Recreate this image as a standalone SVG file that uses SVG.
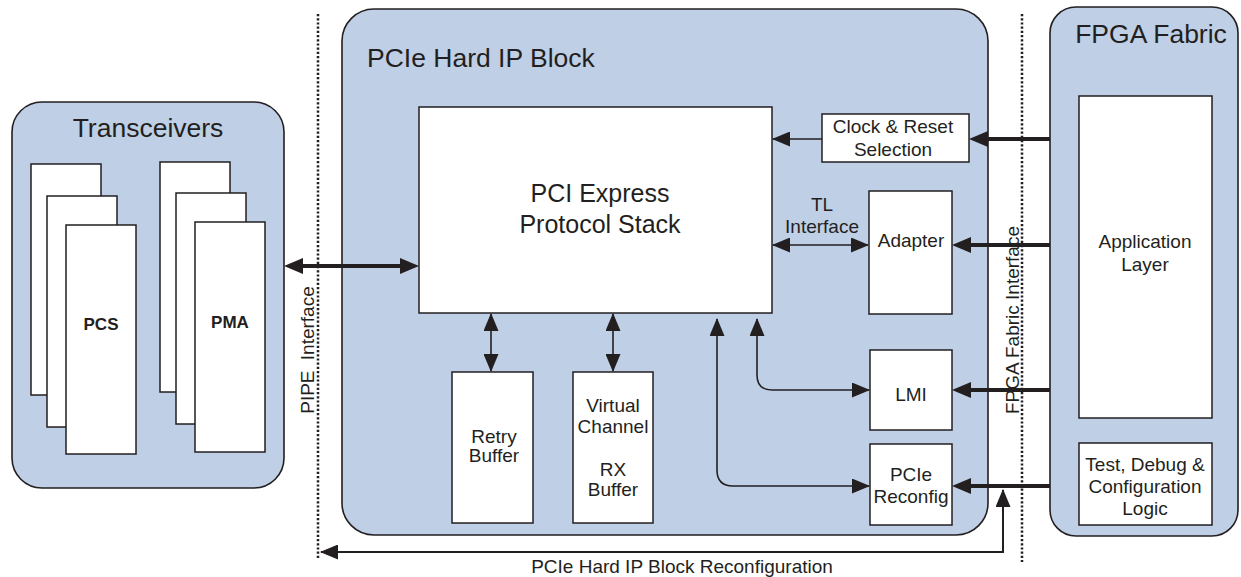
<svg xmlns="http://www.w3.org/2000/svg" width="1241" height="577" viewBox="0 0 1241 577">
<style>
.region{fill:#bfcfe6;stroke:#231f20;stroke-width:1.6}
.box{fill:#ffffff;stroke:#231f20;stroke-width:1.5}
text{font-family:"Liberation Sans",Arial,sans-serif;fill:#231f20}
.title{font-size:26.5px}
.big{font-size:25px;text-anchor:middle}
.lbl{font-size:19px;text-anchor:middle}
.bold{font-size:17px;font-weight:bold;text-anchor:middle}
.thin{fill:none;stroke:#231f20;stroke-width:1.6}
.thick{fill:none;stroke:#231f20;stroke-width:4}
.dot{fill:none;stroke:#231f20;stroke-width:2.5;stroke-dasharray:2.2 2}
</style>
<defs>
<marker id="ah" markerUnits="userSpaceOnUse" viewBox="0 0 18 15" markerWidth="18" markerHeight="15" refX="17" refY="7.5" orient="auto-start-reverse"><path d="M0,0 L18,7.5 L0,15 z" fill="#231f20"/></marker>
<marker id="ahT" markerUnits="userSpaceOnUse" viewBox="0 0 19 16" markerWidth="19" markerHeight="16" refX="14" refY="8" orient="auto-start-reverse"><path d="M0,0 L19,8 L0,16 z" fill="#231f20"/></marker>
</defs>

<g id="transceivers">
<rect class="region" x="12" y="102" width="272" height="386" rx="30" ry="30"/>
<text class="title" x="148" y="137" text-anchor="middle">Transceivers</text>
</g>
<g id="pcs">
<rect class="box" x="31" y="164" width="70" height="231"/>
<rect class="box" x="47" y="196" width="70" height="231"/>
<rect class="box" x="66" y="225" width="70" height="229"/>
<text class="bold" x="101" y="330">PCS</text>
</g>
<g id="pma">
<rect class="box" x="160" y="162" width="70" height="230"/>
<rect class="box" x="176" y="193" width="70" height="231"/>
<rect class="box" x="195" y="222" width="70" height="230"/>
<text class="bold" x="230" y="328">PMA</text>
</g>

<g id="pipe-interface">
<line class="dot" x1="318" y1="14" x2="318" y2="560"/>
<text class="lbl" transform="translate(314,350) rotate(-90)" style="word-spacing:5px">PIPE Interface</text>
</g>

<g id="hard-ip">
<rect class="region" x="342" y="9" width="646" height="526" rx="32" ry="32"/>
<text class="title" x="367" y="67">PCIe Hard IP Block</text>
</g>
<g id="protocol-stack">
<rect class="box" x="419" y="107" width="353" height="206"/>
<text class="big" x="600" y="202">PCI Express</text>
<text class="big" x="600" y="233">Protocol Stack</text>
</g>
<g id="retry-buffer">
<rect class="box" x="452" y="372" width="81" height="151"/>
<text class="lbl" x="494" y="443">Retry</text>
<text class="lbl" x="494" y="462">Buffer</text>
</g>
<g id="vc-rx-buffer">
<rect class="box" x="573" y="372" width="80" height="151"/>
<text class="lbl" x="613" y="412">Virtual</text>
<text class="lbl" x="613" y="433">Channel</text>
<text class="lbl" x="613" y="476">RX</text>
<text class="lbl" x="613" y="496">Buffer</text>
</g>
<g id="clock-reset">
<rect class="box" x="822" y="114" width="147" height="48"/>
<text class="lbl" x="893" y="133">Clock &amp; Reset</text>
<text class="lbl" x="893" y="156">Selection</text>
</g>
<g id="adapter">
<rect class="box" x="869" y="191" width="83" height="123"/>
<text class="lbl" x="911" y="247">Adapter</text>
</g>
<g id="lmi">
<rect class="box" x="870" y="350" width="82" height="80"/>
<text class="lbl" x="911" y="401">LMI</text>
</g>
<g id="pcie-reconfig">
<rect class="box" x="870" y="444" width="82" height="81"/>
<text class="lbl" x="911" y="481">PCIe</text>
<text class="lbl" x="911" y="503">Reconfig</text>
</g>

<g id="fpga-interface">
<line class="dot" x1="1022" y1="14" x2="1022" y2="562"/>
<text class="lbl" transform="translate(1019,320) rotate(-90)">FPGA Fabric Interface</text>
</g>

<g id="fpga-fabric">
<rect class="region" x="1050" y="7" width="188" height="529" rx="26" ry="26"/>
<text class="title" x="1151" y="43" text-anchor="middle">FPGA Fabric</text>
</g>
<g id="application-layer">
<rect class="box" x="1079" y="96" width="133" height="322"/>
<text class="lbl" x="1145" y="248">Application</text>
<text class="lbl" x="1145" y="271">Layer</text>
</g>
<g id="test-debug">
<rect class="box" x="1079" y="443" width="133" height="82"/>
<text class="lbl" x="1145" y="471">Test, Debug &amp;</text>
<text class="lbl" x="1145" y="493">Configuration</text>
<text class="lbl" x="1145" y="515">Logic</text>
</g>

<g id="connectors">
<line class="thick" x1="289" y1="266" x2="414" y2="266" marker-start="url(#ahT)" marker-end="url(#ahT)"/>
<line class="thin" x1="822" y1="139" x2="773" y2="139" marker-end="url(#ah)"/>
<line class="thick" x1="1050" y1="139" x2="974" y2="139" marker-end="url(#ahT)"/>
<line class="thin" x1="773" y1="245" x2="868" y2="245" marker-start="url(#ah)" marker-end="url(#ah)"/>
<line class="thick" x1="1050" y1="245" x2="957" y2="245" marker-end="url(#ahT)"/>
<line class="thick" x1="1050" y1="390" x2="957" y2="390" marker-end="url(#ahT)"/>
<line class="thick" x1="1050" y1="486" x2="957" y2="486" marker-end="url(#ahT)"/>
<line class="thin" x1="491" y1="314" x2="491" y2="371" marker-start="url(#ah)" marker-end="url(#ah)"/>
<line class="thin" x1="613" y1="314" x2="613" y2="371" marker-start="url(#ah)" marker-end="url(#ah)"/>
<path class="thin" d="M717,319 L717,470 Q717,486 733,486 L869,486" marker-start="url(#ah)" marker-end="url(#ah)"/>
<path class="thin" d="M757,319 L757,375 Q757,390 772,390 L869,390" marker-start="url(#ah)" marker-end="url(#ah)"/>
<path class="thin" style="stroke-width:2" d="M1003,490 L1003,552 L321,552" marker-start="url(#ah)" marker-end="url(#ah)"/>
<text class="lbl" x="822" y="211">TL</text>
<text class="lbl" x="822" y="233">Interface</text>
<text class="lbl" x="682" y="573">PCIe Hard IP Block Reconfiguration</text>
</g>
</svg>
